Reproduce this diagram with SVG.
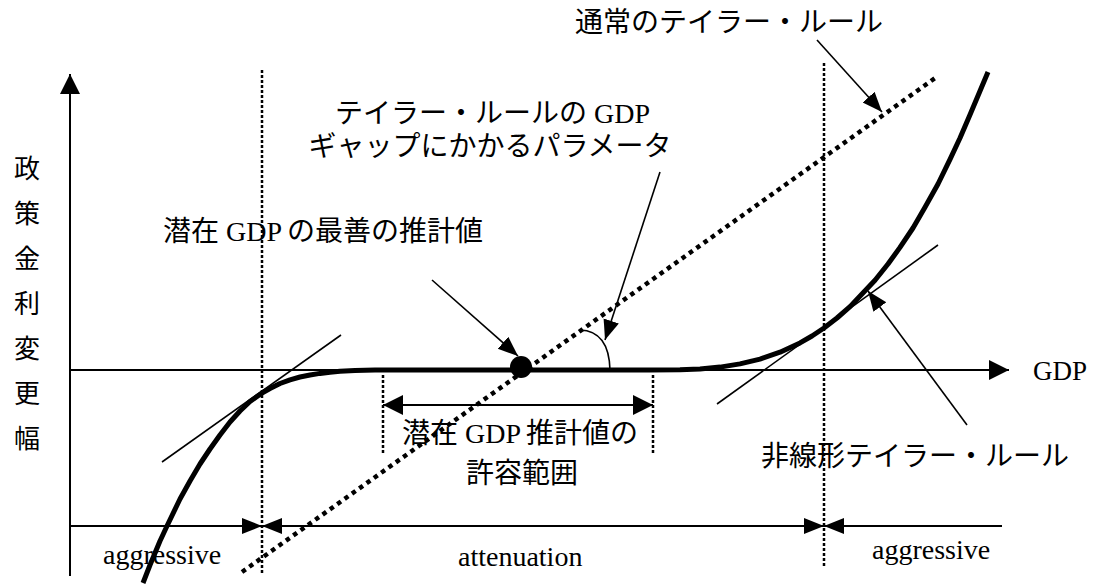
<svg xmlns="http://www.w3.org/2000/svg" width="1098" height="584" viewBox="0 0 1098 584">
<style>
.jp{font-family:"Noto Sans CJK JP","Noto Sans CJK SC",sans-serif;font-size:28px;fill:#000}
.en{font-family:"Liberation Serif","Times New Roman",serif;font-size:28px;fill:#000}
.ax{stroke:#000;stroke-width:2;fill:none}
.thin{stroke:#000;stroke-width:1.6;fill:none}
.thick{stroke:#000;stroke-width:5;fill:none;stroke-linejoin:round}
.vdot{stroke:#000;stroke-width:2.5;stroke-dasharray:3 2;fill:none}
.ddot{stroke:#000;stroke-width:4.5;stroke-dasharray:4.5 4.5;fill:none}
</style>
<defs>
<marker id="ah" markerUnits="userSpaceOnUse" markerWidth="20" markerHeight="20" refX="20" refY="10" orient="auto-start-reverse"><path d="M0,0 L20,10 L0,20 z" fill="#000"/></marker>
<marker id="ahs" markerUnits="userSpaceOnUse" markerWidth="20" markerHeight="18" refX="20" refY="9" orient="auto-start-reverse"><path d="M0,1 L20,9 L0,17 z" fill="#000"/></marker>
</defs>

<g id="axes">
<line class="ax" x1="70" y1="576" x2="70" y2="74" marker-end="url(#ah)"/>
<line class="ax" x1="70" y1="370" x2="1009" y2="370" marker-end="url(#ah)"/>
</g>

<g id="guides">
<line class="vdot" x1="262" y1="70" x2="262" y2="574"/>
<line class="vdot" x1="824" y1="63" x2="824" y2="567"/>
<line class="vdot" x1="383" y1="375" x2="383" y2="455"/>
<line class="vdot" x1="653" y1="375" x2="653" y2="455"/>
</g>

<g id="taylor-line">
<line class="ddot" x1="242" y1="572" x2="938" y2="76"/>
</g>

<g id="tangents">
<line class="thin" x1="162" y1="462" x2="341" y2="335"/>
<line class="thin" x1="717" y1="404" x2="938" y2="245"/>
</g>

<g id="nonlinear-rule">
<path class="thick" d="M143,583 L150,565 L160,541 L167,526 L180,499 L190,481 L200,464 L210,449 L220,435 L230,422 L240,411 L250,401.5 L262,393 L270,388.5 L280,383.5 L290,379.8 L300,377 L310,375 L320,373.4 L330,372.2 L340,371.3 L355,370.5 L375,370 L650,370 L680,369.7 L700,368.9 L720,367.1 L740,363.9 L760,359.1 L780,352.2 L800,342.9 L812,336 L824,328 L837,318 L850,306.6 L862,294 L875,280.2 L888,264 L900,247.4 L913,228 L925,207.3 L938,184 L950,159.3 L960,138 L970,114.8 L980,91 L988,72"/>
</g>

<g id="estimate-point">
<circle cx="521" cy="367" r="11" fill="#000"/>
</g>

<g id="angle-arc">
<path class="thin" d="M580,330 Q609,331 610,370" stroke-width="2"/>
</g>

<g id="range-arrow">
<line class="ax" x1="383" y1="405" x2="653" y2="405" marker-start="url(#ah)" marker-end="url(#ah)"/>
</g>

<g id="regime-bar">
<line class="ax" x1="70" y1="526" x2="262" y2="526" marker-end="url(#ahs)"/>
<line class="ax" x1="262" y1="526" x2="824" y2="526" marker-start="url(#ahs)" marker-end="url(#ahs)"/>
<line class="ax" x1="824" y1="526" x2="1002" y2="526" marker-start="url(#ahs)"/>
</g>

<g id="callouts">
<line class="thin" x1="432" y1="280" x2="518" y2="356" marker-end="url(#ahs)"/>
<line class="thin" x1="660" y1="172" x2="605" y2="340" marker-end="url(#ahs)"/>
<line class="thin" x1="817" y1="40" x2="882" y2="112" marker-end="url(#ahs)"/>
<line class="thin" x1="967" y1="425" x2="868" y2="291" marker-end="url(#ahs)"/>
</g>

<g id="label-yaxis" class="jp" style="font-size:26px" text-anchor="middle">
<text x="27" y="178">政</text>
<text x="27" y="223">策</text>
<text x="27" y="268">金</text>
<text x="27" y="313">利</text>
<text x="27" y="358">変</text>
<text x="27" y="403">更</text>
<text x="27" y="448">幅</text>
</g>

<g id="label-taylor">
<text class="jp" x="575" y="32">通常のテイラー・ルール</text>
</g>

<g id="label-parameter">
<text class="jp" x="335" y="123">テイラー・ルールの</text>
<text class="en" x="594" y="123">GDP</text>
<text class="jp" x="490" y="156" text-anchor="middle">ギャップにかかるパラメータ</text>
</g>

<g id="label-best">
<text class="jp" x="163" y="241">潜在</text>
<text class="en" x="226" y="241">GDP</text>
<text class="jp" x="287" y="241">の最善の推計値</text>
</g>

<g id="label-range">
<text class="jp" x="402" y="443">潜在</text>
<text class="en" x="465" y="443">GDP</text>
<text class="jp" x="526" y="443">推計値の</text>
<text class="jp" x="522" y="483" text-anchor="middle">許容範囲</text>
</g>

<g id="label-nonlinear">
<text class="jp" x="915" y="466" text-anchor="middle">非線形テイラー・ルール</text>
</g>

<g id="label-gdp">
<text class="en" x="1033" y="380" style="font-size:27px">GDP</text>
</g>

<g id="label-regimes" class="en">
<text x="103" y="564">aggressive</text>
<text x="458" y="566">attenuation</text>
<text x="872" y="559">aggressive</text>
</g>
</svg>
